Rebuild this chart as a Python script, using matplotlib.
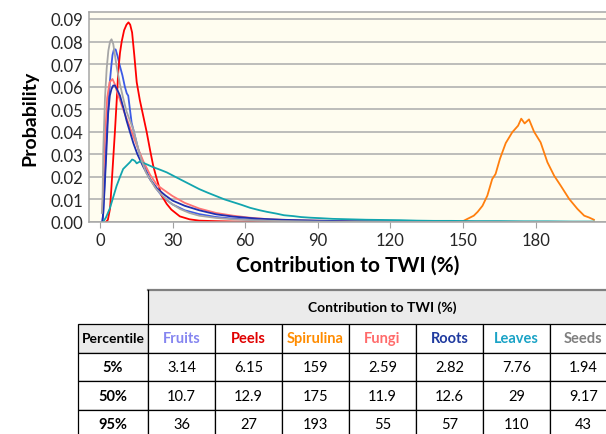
import matplotlib.pyplot as plt
from matplotlib.patches import Rectangle

plt.rcParams['font.family'] = ['Lato', 'DejaVu Sans']

# ---- curve data ----
fruits_x = [1, 1.4, 2.1, 2.8, 3.5, 4.1, 4.7, 5.2, 5.8, 6.5, 7.3, 8.3, 9.3, 10.3, 11.1, 11.7, 12.4, 13.1,
            14.5, 15.9, 17.9, 20.7, 23.5, 26, 30, 35, 41, 48, 55, 65, 75, 90, 110, 150, 204]
fruits_y = [0.0, 0.004, 0.022, 0.040, 0.052, 0.062, 0.069, 0.074, 0.0765, 0.0765, 0.0735, 0.069, 0.065,
            0.060, 0.057, 0.056, 0.050, 0.044, 0.038, 0.032, 0.026, 0.019, 0.0145, 0.0110, 0.0078, 0.0052,
            0.0035, 0.0022, 0.0015, 0.0009, 0.0005, 0.0002, 0.0001, 0.0, 0.0]

peels_x = [2.5, 3.3, 4.2, 4.8, 5.5, 6.2, 7, 7.6, 8.3, 9, 10, 11, 11.8, 12.5, 13.3, 14.2, 15.2, 16.5, 17.9,
           19.3, 20.7, 22, 23.5, 25.5, 27.6, 29.5, 33, 37, 41, 47, 55, 65, 80, 204]
peels_y = [0.0, 0.001, 0.006, 0.016, 0.028, 0.040, 0.055, 0.067, 0.075, 0.080, 0.085, 0.0875, 0.0885,
           0.0875, 0.084, 0.074, 0.062, 0.054, 0.047, 0.040, 0.032, 0.025, 0.019, 0.0117, 0.008, 0.0055,
           0.0025, 0.0012, 0.0006, 0.0004, 0.0002, 0.0001, 0.0, 0.0]

spirulina_x = [148, 150, 152, 154.4, 156, 158, 160, 162, 163.4, 165.2, 167.6, 170.3, 172.7, 174, 175.4,
               177.2, 179.3, 182, 184.8, 187.6, 190.3, 193.8, 197.2, 200, 202, 204]
spirulina_y = [0.0, 0.0004, 0.0015, 0.0028, 0.0045, 0.0072, 0.0117, 0.019, 0.0213, 0.028, 0.035, 0.0398,
               0.0427, 0.0458, 0.0437, 0.0455, 0.0400, 0.0353, 0.0265, 0.0205, 0.0161, 0.0102, 0.0058,
               0.0028, 0.0020, 0.0010]

fungi_x = [1, 2, 3, 4, 5.2, 6.2, 7, 8.3, 9.6, 11, 12.4, 13.8, 15.2, 17.9, 20.7, 23.5, 26, 30, 35, 41, 48,
           55, 62, 70, 80, 90, 100, 120, 150, 204]
fungi_y = [0.005, 0.035, 0.055, 0.062, 0.0634, 0.061, 0.058, 0.054, 0.050, 0.046, 0.042, 0.038, 0.034,
           0.027, 0.021, 0.0165, 0.0145, 0.0115, 0.0085, 0.006, 0.004, 0.0028, 0.0019, 0.0012, 0.0008,
           0.0006, 0.0004, 0.0002, 0.0001, 0.0]

roots_x = [1, 1.3, 1.8, 2.5, 3.4, 4.1, 4.8, 5.5, 6.2, 7, 8.3, 9.6, 11, 12.4, 13.8, 15.5, 17.9, 20.7, 23.5,
           27, 30, 35, 41, 48, 55, 65, 75, 90, 105, 120, 140, 204]
roots_y = [0.0, 0.003, 0.012, 0.027, 0.048, 0.056, 0.059, 0.0605, 0.0605, 0.059, 0.056, 0.051, 0.045,
           0.040, 0.035, 0.030, 0.0245, 0.019, 0.0150, 0.0118, 0.0095, 0.0072, 0.0052, 0.0034, 0.0024,
           0.0015, 0.0010, 0.0006, 0.0003, 0.0002, 0.0, 0.0]

leaves_x = [1.3, 2.5, 4.1, 5.5, 6.9, 8.3, 9.6, 11, 12.4, 13.3, 13.8, 14.5, 15.2, 16, 17, 17.9, 19.5, 22,
            24.8, 27.6, 30.3, 33, 37, 41, 44.5, 48, 51.5, 55, 58.5, 62, 66, 69, 73, 76, 80, 83, 87, 91,
            96, 103, 110, 117, 124, 131, 138, 145, 155, 165, 175, 185, 195, 204]
leaves_y = [0.0, 0.002, 0.006, 0.011, 0.016, 0.020, 0.0235, 0.025, 0.0265, 0.0277, 0.0275, 0.027, 0.026,
            0.0265, 0.027, 0.0262, 0.0255, 0.0243, 0.0232, 0.0220, 0.0205, 0.019, 0.0168, 0.0146, 0.0130,
            0.0115, 0.0100, 0.0088, 0.0076, 0.0063, 0.0052, 0.0045, 0.0037, 0.0030, 0.0026, 0.0022,
            0.0019, 0.0017, 0.0014, 0.0012, 0.0010, 0.0009, 0.0008, 0.0006, 0.0005, 0.0005, 0.0004,
            0.0004, 0.0003, 0.0003, 0.0002, 0.0002]

seeds_x = [0.8, 1.1, 1.4, 2.1, 2.8, 3.5, 4.2, 4.8, 5.5, 6.9, 8.3, 9.6, 11, 12.4, 13.8, 15.2, 17, 19, 20.7,
           23, 26, 29, 33, 37, 41, 48, 55, 65, 75, 90, 110, 204]
seeds_y = [0.004, 0.010, 0.032, 0.055, 0.068, 0.076, 0.080, 0.081, 0.079, 0.069, 0.061, 0.055, 0.049,
           0.045, 0.041, 0.035, 0.028, 0.022, 0.019, 0.015, 0.0115, 0.0085, 0.0058, 0.004, 0.0028, 0.0018,
           0.0012, 0.0007, 0.0004, 0.0002, 0.0, 0.0]

# ---- table data ----
groups = ['Fruits', 'Peels', 'Spirulina', 'Fungi', 'Roots', 'Leaves', 'Seeds']
group_colors = ['#8585F0', '#E00000', '#FF8C00', '#FF6B6B', '#1F3A9F', '#1BA3C6', '#7F7F7F']
percentiles = ['5%', '50%', '95%']
p5 = [3.14, 6.15, 159, 2.59, 2.82, 7.76, 1.94]
p50 = [10.7, 12.9, 175, 11.9, 12.6, 29, 9.17]
p95 = [36, 27, 193, 55, 57, 110, 43]

line_colors = {'Fruits': '#3D5BE6', 'Peels': '#FF0000', 'Spirulina': '#FF7F0E', 'Fungi': '#FF7373',
               'Roots': '#1F2FB0', 'Leaves': '#12A5AE', 'Seeds': '#A6A6A6'}

fig = plt.figure(figsize=(6.06, 4.35), dpi=100)

# table axes in pixel coordinates
tax = fig.add_axes([0, 0, 1, 1])
tax.set_xlim(0, 606)
tax.set_ylim(435, 0)
tax.axis('off')

ax = fig.add_axes([89 / 606, 1 - 223 / 435, 517 / 606, 210 / 435])
ax.set_facecolor('#FFFDF0')

series = [('Fruits', fruits_x, fruits_y), ('Peels', peels_x, peels_y),
          ('Spirulina', spirulina_x, spirulina_y), ('Fungi', fungi_x, fungi_y),
          ('Roots', roots_x, roots_y), ('Leaves', leaves_x, leaves_y), ('Seeds', seeds_x, seeds_y)]
for name, xs, ys in series:
    ax.plot(xs, ys, color=line_colors[name], lw=1.3, label=name)

ax.set_xlim(-4.5, 209)
ax.set_ylim(0, 0.0931)
ax.set_yticks([i / 100 for i in range(10)])
ax.set_yticklabels(['%.2f' % (i / 100) for i in range(10)])
ax.set_xticks(range(0, 181, 30))
ax.grid(axis='y', color='#ABABAB', lw=1.1)
ax.set_axisbelow(True)
ax.tick_params(axis='y', length=0, labelsize=12, labelcolor='#262626', pad=4)
ax.tick_params(axis='x', length=4, color='#A0A0A0', labelsize=12, labelcolor='#262626', pad=3)
for s in ['left', 'bottom', 'top']:
    ax.spines[s].set_color('#A6A6A6')
    ax.spines[s].set_linewidth(1.1)
ax.spines['right'].set_visible(False)
ax.set_ylabel('Probability', fontsize=14, fontweight='bold', labelpad=9)
ax.set_xlabel('Contribution to TWI (%)', fontsize=15, fontweight='bold', labelpad=5)

# ---- table ----
x0, w0, cw = 78, 70, 67
y0, hh, rh = 291, 34, 28.7
tfs = 10.5
ncol = len(groups)

tax.add_patch(Rectangle((x0 + w0, y0), ncol * cw, hh, fc='#EBEBEB', ec='none'))
tax.plot([x0 + w0, x0 + w0 + ncol * cw], [y0, y0], color='#808080', lw=1.6)
tax.plot([x0 + w0, x0 + w0], [y0, y0 + hh], color='black', lw=0.9)
tax.text(x0 + w0 + ncol * cw / 2, y0 + hh / 2, 'Contribution to TWI (%)', ha='center', va='center',
         fontsize=10, fontweight='bold', color='black')

# Percentile row
yr = y0 + hh
tax.add_patch(Rectangle((x0, yr), w0, rh, fc='#EBEBEB', ec='black', lw=0.9))
tax.text(x0 + w0 / 2, yr + rh / 2, 'Percentile', ha='center', va='center', fontsize=10,
         fontweight='bold')
for j, g in enumerate(groups):
    cx = x0 + w0 + j * cw
    tax.add_patch(Rectangle((cx, yr), cw, rh, fc='white', ec='black', lw=0.9))
    tax.text(cx + cw / 2, yr + rh / 2, g, ha='center', va='center', fontsize=10.5,
             fontweight='bold', color=group_colors[j])

for i, (lab, vals) in enumerate(zip(percentiles, [p5, p50, p95])):
    yy = yr + (i + 1) * rh
    tax.add_patch(Rectangle((x0, yy), w0, rh, fc='white', ec='black', lw=0.9))
    tax.text(x0 + w0 / 2, yy + rh / 2, lab, ha='center', va='center', fontsize=tfs, fontweight='bold')
    for j, v in enumerate(vals):
        cx = x0 + w0 + j * cw
        tax.add_patch(Rectangle((cx, yy), cw, rh, fc='white', ec='black', lw=0.9))
        tax.text(cx + cw / 2, yy + rh / 2, '%g' % v, ha='center', va='center', fontsize=tfs)

fig.savefig('out.png', dpi=100)
